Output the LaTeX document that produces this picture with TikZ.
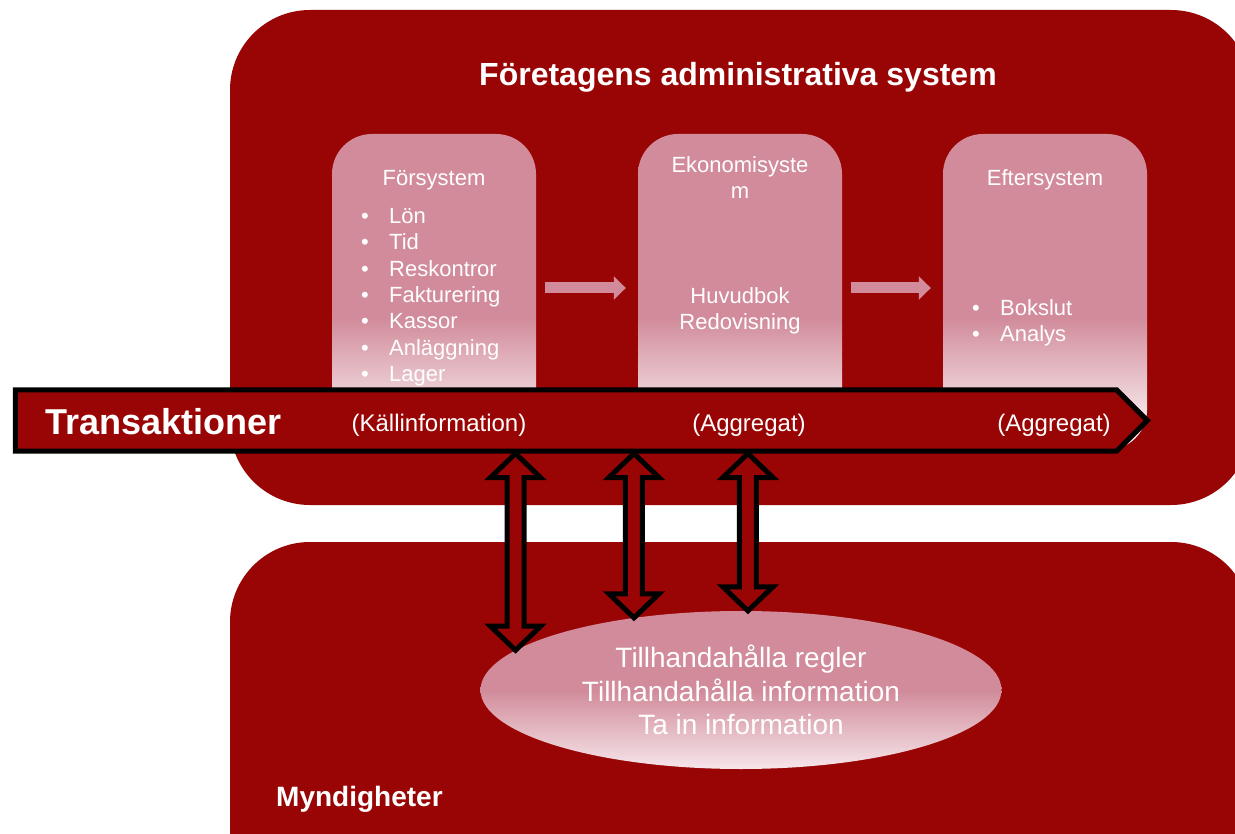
\documentclass[tikz,border=0pt]{standalone}
\usepackage{fontspec}
\setmainfont{Liberation Sans}
\usetikzlibrary{shapes.geometric, shapes.symbols, arrows.meta, calc}
\definecolor{foretagsrod}{RGB}{153,5,5}
\definecolor{rosa}{RGB}{209,139,154}
\definecolor{rosaljus}{RGB}{246,230,234}
\pgfdeclareverticalshading{rosatona}{100bp}{color(0bp)=(rosaljus); color(30bp)=(rosaljus); color(46bp)=(rosa); color(100bp)=(rosa)}
\pgfdeclareverticalshading{rosatonaell}{100bp}{color(0bp)=(rosaljus); color(25bp)=(rosaljus); color(50bp)=(rosa); color(100bp)=(rosa)}
\newcommand{\punkt}{\makebox[28pt][l]{•}}

\begin{document}
\begin{tikzpicture}[x=1pt, y=-1pt,
	systemruta/.style={shade, shading=rosatona, rounded corners=40pt, minimum width=204pt, minimum height=316pt, inner sep=0pt},
	rubrik/.style={text=white, font=\fontsize{22}{26}\selectfont, align=center, inner sep=0pt},
	lista/.style={text=white, font=\fontsize{22}{26.3}\selectfont, align=left, anchor=west, inner sep=0pt},
	parentes/.style={text=white, font=\fontsize{24}{28}\selectfont, inner sep=0pt},
	fetrubrik/.style={text=white, font=\bfseries\fontsize{28}{34}\selectfont, inner sep=0pt},
	flodespil/.style={rosa, line width=11pt, shorten <=9pt, shorten >=12pt, -{Triangle[length=12pt, width=23pt]}},
	dubbelpil/.style={draw=black, line width=5pt, fill=foretagsrod, to path={let \p1=(\tikztostart), \p2=(\tikztotarget) in
		(\x1,\y1) -- (\x1+25pt,\y1-24pt) -- (\x1+8.5pt,\y1-24pt) -- (\x1+8.5pt,\y2+24pt) -- (\x1+25pt,\y2+24pt) -- (\x1,\y2)
		-- (\x1-25pt,\y2+24pt) -- (\x1-8.5pt,\y2+24pt) -- (\x1-8.5pt,\y1-24pt) -- (\x1-25pt,\y1-24pt) -- cycle}}]
	\path[use as bounding box] (0,0) rectangle (1235,834);
	\clip (0,0) rectangle (1235,834);
	\fill[foretagsrod] (230,10) [rounded corners=80pt] rectangle (1251,505);
	\fill[foretagsrod] (230,542) [rounded corners=80pt] rectangle (1251,920);
	\node (rubrik) at (738,77) [fetrubrik, font=\bfseries\fontsize{32}{38}\selectfont] {Företagens administrativa system};
	\node (fors) at (434,292) [systemruta] {};
	\node (eko) at (740,292) [systemruta] {};
	\node (efter) at (1045,292) [systemruta] {};
	\node (forsrubrik) at (434,180) [rubrik] {Försystem};
	\node (forslista) at (361,297.3) [lista] {\punkt Lön\\\punkt Tid\\\punkt Reskontror\\\punkt Fakturering\\\punkt Kassor\\\punkt Anläggning\\\punkt Lager};
	\node (ekorubrik) at (740,177.5) [rubrik] {Ekonomisyste\\m};
	\node (ekotext) at (740,311) [rubrik] {Huvudbok\\Redovisning};
	\node (efterrubrik) at (1045,180) [rubrik] {Eftersystem};
	\node (efterlista) at (972,323) [lista] {\punkt Bokslut\\\punkt Analys};
	\draw[flodespil] (fors.east |- 0,288) -- (eko.west |- 0,288);
	\draw[flodespil] (eko.east |- 0,288) -- (efter.west |- 0,288);
	\node (trans) at (566,420.5) [signal, signal to=east, signal pointer angle=90, draw=black, line width=5pt, fill=foretagsrod, minimum width=1132pt, minimum height=61pt, inner sep=0pt] {};
	\node (transtext) at (45,422) [anchor=west, inner sep=0pt, text=white, font=\bfseries\fontsize{36}{40}\selectfont] {Transaktioner};
	\node (kalla) at (439,425) [parentes] {(Källinformation)};
	\node (aggregat1) at (749,425) [parentes] {(Aggregat)};
	\node (aggregat2) at (1054,425) [parentes] {(Aggregat)};
	\node (krav) at (741,690) [ellipse, shade, shading=rosatonaell, minimum width=521pt, minimum height=158pt, inner sep=0pt, text=white, align=center, font=\fontsize{28}{33.5}\selectfont] {Tillhandahålla regler\\Tillhandahålla information\\Ta in information};
	\foreach \v in {170,146,85}
	\draw[dubbelpil] (trans.south -| krav.\v) to (krav.\v);
	\node (myndigheter) at (276,799) [anchor=west, fetrubrik] {Myndigheter};
\end{tikzpicture}
\end{document}
